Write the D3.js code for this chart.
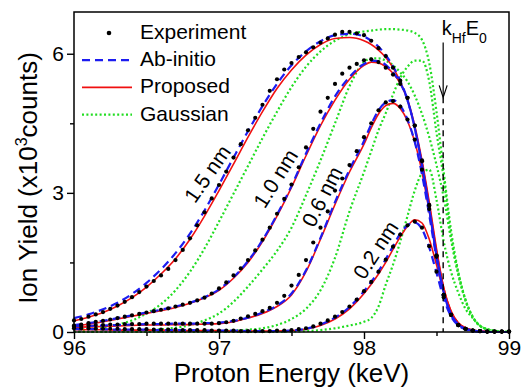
<!DOCTYPE html>
<html>
<head>
<meta charset="utf-8">
<script src="https://cdn.jsdelivr.net/npm/d3@7"></script>
<style>
  body { margin: 0; background: #fff; }
  svg { display: block; font-family: "Liberation Sans", Arial, sans-serif; }
</style>
</head>
<body>
<div id="chart"></div>
<script>
// energy grids (keV)
const energyLine = [96.0, 96.1, 96.2, 96.3, 96.4, 96.5, 96.6, 96.7, 96.8, 96.9,
  97.0, 97.1, 97.2, 97.3, 97.4, 97.5, 97.6, 97.7, 97.8, 97.9,
  98.0, 98.05, 98.1, 98.15, 98.2, 98.25, 98.3, 98.35, 98.4, 98.45,
  98.5, 98.55, 98.6, 98.65, 98.7, 98.75, 98.8, 98.85, 98.9, 98.95, 99.0]
const energyDots = [96.00, 96.05, 96.10, 96.15, 96.20, 96.25, 96.30, 96.35, 96.40, 96.45,
  96.50, 96.55, 96.60, 96.65, 96.70, 96.75, 96.80, 96.85, 96.90, 96.95,
  97.00, 97.05, 97.10, 97.15, 97.20, 97.25, 97.30, 97.35, 97.40, 97.45,
  97.50, 97.55, 97.60, 97.65, 97.70, 97.75, 97.80, 97.85, 97.90, 97.95,
  98.00, 98.05, 98.10, 98.15, 98.20, 98.25, 98.30, 98.35, 98.40, 98.45,
  98.50, 98.55, 98.60, 98.65, 98.70, 98.75, 98.80, 98.85, 98.90, 98.95, 99.00]

const thickness = ['1.5 nm', '1.0 nm', '0.6 nm', '0.2 nm']
const seriesNames = ['Experiment', 'Ab-initio', 'Proposed', 'Gaussian']

// experiment (x10^3 counts), on energyDots
const exp15 = [0.25, 0.28, 0.33, 0.38, 0.43, 0.50, 0.57, 0.65, 0.75, 0.86,
  0.98, 1.10, 1.22, 1.36, 1.55, 1.77, 2.02, 2.30, 2.58, 2.88,
  3.17, 3.46, 3.76, 4.05, 4.35, 4.62, 4.90, 5.20, 5.45, 5.66,
  5.80, 5.93, 6.03, 6.14, 6.24, 6.33, 6.41, 6.47, 6.47, 6.44,
  6.40, 6.28, 6.12, 5.95, 5.70, 5.42, 5.05, 4.45, 3.70, 2.74,
  1.65, 0.80, 0.37, 0.15, 0.07, 0.03, 0.02, 0.01, 0.01, 0.01, 0.01]
const exp10 = [0.14, 0.16, 0.19, 0.22, 0.24, 0.27, 0.30, 0.33, 0.36, 0.39,
  0.42, 0.45, 0.48, 0.51, 0.55, 0.59, 0.63, 0.68, 0.74, 0.83,
  0.94, 1.07, 1.22, 1.37, 1.55, 1.76, 1.99, 2.25, 2.55, 2.87,
  3.18, 3.55, 3.98, 4.38, 4.75, 5.05, 5.35, 5.57, 5.70, 5.78,
  5.86, 5.88, 5.82, 5.70, 5.55, 5.35, 5.05, 4.45, 3.68, 2.72,
  1.65, 0.80, 0.37, 0.15, 0.07, 0.03, 0.02, 0.01, 0.01, 0.01, 0.01]
const exp06 = [0.12, 0.13, 0.14, 0.15, 0.15, 0.16, 0.16, 0.17, 0.17, 0.17,
  0.18, 0.18, 0.18, 0.18, 0.18, 0.18, 0.18, 0.18, 0.18, 0.18,
  0.19, 0.21, 0.24, 0.29, 0.34, 0.39, 0.45, 0.52, 0.63, 0.78,
  1.00, 1.23, 1.55, 1.93, 2.25, 2.60, 3.05, 3.31, 3.60, 3.90,
  4.20, 4.50, 4.78, 4.95, 4.98, 4.86, 4.58, 4.15, 3.50, 2.65,
  1.62, 0.80, 0.37, 0.15, 0.07, 0.03, 0.02, 0.01, 0.01, 0.01, 0.01]
const exp02 = [0.08, 0.08, 0.08, 0.07, 0.07, 0.07, 0.07, 0.06, 0.06, 0.06,
  0.06, 0.05, 0.05, 0.05, 0.05, 0.04, 0.04, 0.04, 0.04, 0.03,
  0.03, 0.03, 0.03, 0.02, 0.02, 0.02, 0.02, 0.02, 0.03, 0.03,
  0.04, 0.06, 0.08, 0.12, 0.18, 0.25, 0.33, 0.43, 0.55, 0.70,
  0.88, 1.08, 1.30, 1.56, 1.84, 2.10, 2.30, 2.38, 2.25, 1.85,
  1.30, 0.75, 0.37, 0.15, 0.07, 0.03, 0.02, 0.01, 0.01, 0.01, 0.01]

// ab-initio, on energyLine
const abi15 = [0.30, 0.38, 0.49, 0.63, 0.82, 1.06, 1.35, 1.70, 2.12, 2.62,
  3.18, 3.76, 4.33, 4.87, 5.35, 5.75, 6.05, 6.27, 6.40, 6.43,
  6.37, 6.28, 6.15, 5.97, 5.73, 5.42, 5.00, 4.40, 3.60, 2.65,
  1.65, 0.85, 0.38, 0.16, 0.07, 0.03, 0.01, 0.00, 0.00, 0.00, 0.00]
const abi10 = [0.15, 0.19, 0.24, 0.30, 0.36, 0.42, 0.48, 0.55, 0.63, 0.75,
  0.92, 1.18, 1.53, 1.98, 2.53, 3.15, 3.85, 4.50, 5.08, 5.50,
  5.78, 5.85, 5.84, 5.76, 5.60, 5.37, 5.00, 4.40, 3.60, 2.65,
  1.65, 0.85, 0.38, 0.16, 0.07, 0.03, 0.01, 0.00, 0.00, 0.00, 0.00]
const abi06 = [0.12, 0.13, 0.14, 0.15, 0.16, 0.17, 0.17, 0.18, 0.18, 0.19,
  0.20, 0.24, 0.31, 0.42, 0.57, 0.83, 1.33, 2.03, 2.80, 3.50,
  4.12, 4.48, 4.78, 4.95, 5.00, 4.88, 4.58, 4.10, 3.40, 2.52,
  1.60, 0.82, 0.38, 0.16, 0.07, 0.03, 0.01, 0.00, 0.00, 0.00, 0.00]
const abi02 = [0.06, 0.06, 0.06, 0.05, 0.05, 0.05, 0.04, 0.04, 0.04, 0.03,
  0.03, 0.03, 0.02, 0.02, 0.02, 0.03, 0.07, 0.16, 0.31, 0.54,
  0.88, 1.08, 1.31, 1.57, 1.85, 2.12, 2.30, 2.36, 2.22, 1.82,
  1.28, 0.72, 0.34, 0.14, 0.06, 0.02, 0.01, 0.00, 0.00, 0.00, 0.00]

// proposed model, on energyLine
const prop15 = [0.24, 0.32, 0.42, 0.56, 0.74, 0.97, 1.25, 1.58, 2.00, 2.50,
  3.05, 3.62, 4.20, 4.75, 5.25, 5.65, 5.97, 6.20, 6.33, 6.35,
  6.28, 6.20, 6.08, 5.92, 5.70, 5.40, 5.00, 4.40, 3.65, 2.75,
  1.75, 0.95, 0.45, 0.20, 0.09, 0.04, 0.02, 0.01, 0.00, 0.00, 0.00]
const prop10 = [0.12, 0.17, 0.22, 0.28, 0.34, 0.40, 0.46, 0.53, 0.62, 0.74,
  0.90, 1.16, 1.50, 1.95, 2.50, 3.12, 3.80, 4.45, 5.00, 5.45,
  5.75, 5.82, 5.80, 5.72, 5.58, 5.36, 5.02, 4.45, 3.70, 2.80,
  1.80, 0.95, 0.45, 0.20, 0.09, 0.04, 0.02, 0.01, 0.00, 0.00, 0.00]
const prop06 = [0.10, 0.11, 0.12, 0.13, 0.14, 0.15, 0.15, 0.16, 0.16, 0.17,
  0.18, 0.22, 0.30, 0.40, 0.55, 0.80, 1.30, 2.00, 2.75, 3.45,
  4.05, 4.40, 4.70, 4.88, 4.93, 4.82, 4.55, 4.10, 3.45, 2.60,
  1.70, 0.90, 0.42, 0.18, 0.08, 0.03, 0.01, 0.00, 0.00, 0.00, 0.00]
const prop02 = [0.05, 0.05, 0.05, 0.04, 0.04, 0.04, 0.04, 0.03, 0.03, 0.03,
  0.03, 0.02, 0.02, 0.02, 0.02, 0.03, 0.06, 0.14, 0.28, 0.50,
  0.83, 1.03, 1.25, 1.50, 1.78, 2.05, 2.28, 2.42, 2.35, 2.00,
  1.45, 0.85, 0.42, 0.18, 0.08, 0.03, 0.01, 0.00, 0.00, 0.00, 0.00]

// gaussian model, on energyLine
const gau15 = [0.03, 0.06, 0.10, 0.16, 0.25, 0.40, 0.60, 0.90, 1.30, 1.80,
  2.38, 2.98, 3.58, 4.18, 4.75, 5.28, 5.72, 6.05, 6.28, 6.42,
  6.48, 6.50, 6.52, 6.53, 6.53, 6.52, 6.50, 6.45, 6.30, 5.80,
  4.75, 3.45, 2.20, 1.30, 0.70, 0.33, 0.14, 0.06, 0.03, 0.01, 0.00]
const gau10 = [0.00, 0.01, 0.01, 0.02, 0.03, 0.04, 0.06, 0.09, 0.15, 0.25,
  0.40, 0.65, 0.98, 1.35, 1.75, 2.25, 2.95, 3.70, 4.50, 5.30,
  5.82, 5.90, 5.90, 5.85, 5.75, 5.60, 5.40, 5.10, 4.70, 4.20,
  3.60, 2.90, 2.00, 1.25, 0.68, 0.32, 0.13, 0.06, 0.02, 0.01, 0.00]
const gau06 = [0.00, 0.00, 0.00, 0.00, 0.01, 0.01, 0.01, 0.01, 0.01, 0.02,
  0.02, 0.03, 0.05, 0.08, 0.15, 0.28, 0.50, 0.90, 1.60, 2.60,
  3.45, 3.90, 4.35, 4.72, 5.12, 5.48, 5.72, 5.85, 5.85, 5.40,
  4.30, 3.30, 2.05, 1.25, 0.68, 0.32, 0.13, 0.06, 0.02, 0.01, 0.00]
const gau02 = [0.00, 0.00, 0.00, 0.00, 0.00, 0.00, 0.00, 0.00, 0.00, 0.00,
  0.00, 0.00, 0.00, 0.00, 0.00, 0.01, 0.02, 0.04, 0.08, 0.14,
  0.22, 0.30, 0.55, 1.02, 1.45, 1.95, 2.50, 3.05, 3.42, 3.50,
  2.85, 1.95, 1.30, 0.85, 0.50, 0.30, 0.13, 0.06, 0.02, 0.01, 0.00]

const xTicks = [96, 97, 98, 99]
const xMinor = [96.5, 97.5, 98.5]
const yTicks = [0, 3, 6]
const yMinor = [1.5, 4.5]
const kE0 = 98.546   // k_Hf E_0 edge

const experiment = [exp15, exp10, exp06, exp02]
const abInitio = [abi15, abi10, abi06, abi02]
const proposed = [prop15, prop10, prop06, prop02]
const gaussian = [gau15, gau10, gau06, gau02]

const blue = '#1c1cf0', red = '#f01010', green = '#22dd22'

const width = 522, height = 391
const margin = { top: 12, right: 13, bottom: 59, left: 74 }
const w = width - margin.left - margin.right
const h = height - margin.top - margin.bottom

const svg = d3.select('#chart').append('svg')
  .attr('width', width)
  .attr('height', height)
const g = svg.append('g')
  .attr('transform', `translate(${margin.left},${margin.top})`)

// Scales
const x = d3.scaleLinear().domain([96, 99]).range([0, w])
const y = d3.scaleLinear().domain([0, 6.9]).range([h, 0])

const line = d3.line()
  .x((d, i) => x(energyLine[i]))
  .y(d => y(d))
  .curve(d3.curveMonotoneX)

// Gaussian (back), proposed, ab-initio, then the dots on top
g.selectAll('.gau').data(gaussian).enter().append('path')
  .attr('class', 'gau')
  .attr('d', line)
  .attr('fill', 'none')
  .attr('stroke', green)
  .attr('stroke-width', 2.2)
  .attr('stroke-dasharray', '2,2.4')

g.selectAll('.prop').data(proposed).enter().append('path')
  .attr('class', 'prop')
  .attr('d', line)
  .attr('fill', 'none')
  .attr('stroke', red)
  .attr('stroke-width', 1.6)

g.selectAll('.abi').data(abInitio).enter().append('path')
  .attr('class', 'abi')
  .attr('d', line)
  .attr('fill', 'none')
  .attr('stroke', blue)
  .attr('stroke-width', 2.2)
  .attr('stroke-dasharray', '8,5')

experiment.forEach(s => {
  g.append('g').selectAll('circle')
    .data(s)
    .enter()
    .append('circle')
    .attr('cx', (d, i) => x(energyDots[i]))
    .attr('cy', d => y(d))
    .attr('r', 2.1)
    .attr('fill', '#000')
})

// k_Hf E_0 marker: arrow and dashed line
g.append('line')
  .attr('x1', x(kE0)).attr('x2', x(kE0))
  .attr('y1', y(5.06)).attr('y2', y(0))
  .attr('stroke', '#000').attr('stroke-width', 1.4)
  .attr('stroke-dasharray', '6,5')
g.append('line')
  .attr('x1', x(kE0)).attr('x2', x(kE0))
  .attr('y1', y(6.24)).attr('y2', y(5.06))
  .attr('stroke', '#000').attr('stroke-width', 1.2)
g.append('path')
  .attr('d', `M${x(kE0) - 4},${y(5.06) - 12}L${x(kE0)},${y(5.06)}L${x(kE0) + 4},${y(5.06) - 12}`)
  .attr('fill', 'none').attr('stroke', '#000').attr('stroke-width', 1.2)

const kLabel = g.append('text')
  .attr('x', x(kE0) - 1.5)
  .attr('y', 23)
  .attr('font-size', '20px')
kLabel.append('tspan').text('k')
kLabel.append('tspan').attr('font-size', '14px').attr('dy', 8).text('Hf')
kLabel.append('tspan').attr('dy', -8).text('E')
kLabel.append('tspan').attr('font-size', '14px').attr('dy', 8).text('0')

// thickness labels along the rising edges
const labelPos = [[96.92, 3.41, -55], [97.39, 3.31, -58], [97.71, 2.92, -63], [98.08, 1.77, -57]]
g.selectAll('.tlabel').data(thickness).enter().append('text')
  .attr('class', 'tlabel')
  .attr('transform', (d, i) => `translate(${x(labelPos[i][0])},${y(labelPos[i][1])}) rotate(${labelPos[i][2]})`)
  .attr('text-anchor', 'middle')
  .attr('dy', '0.35em')
  .attr('font-size', '21px')
  .text(d => d)

// Frame
g.append('rect')
  .attr('width', w).attr('height', h)
  .attr('fill', 'none').attr('stroke', '#000').attr('stroke-width', 1.5)

// Axes
const xAxis = d3.axisBottom(x).tickValues(xTicks).tickSize(7).tickPadding(1).tickFormat(d3.format('d'))
const yAxis = d3.axisLeft(y).tickValues(yTicks).tickSize(7).tickPadding(3).tickFormat(d3.format('d'))
const ax = g.append('g').attr('transform', `translate(0,${h})`).call(xAxis)
g.append('g').attr('transform', `translate(0,${h})`)
  .call(d3.axisBottom(x).tickValues(xMinor).tickSize(4).tickFormat(''))
const ay = g.append('g').call(yAxis)
g.append('g').call(d3.axisLeft(y).tickValues(yMinor).tickSize(4).tickFormat(''))
g.selectAll('.domain').remove()
g.selectAll('.tick line').attr('stroke-width', 1.4)
ax.selectAll('text').attr('font-size', '21px').attr('font-family', null).attr('fill', '#000')
ay.selectAll('text').attr('font-size', '21px').attr('font-family', null).attr('fill', '#000')

// Axis titles
svg.append('text')
  .attr('x', margin.left + w / 2)
  .attr('y', 382)
  .attr('text-anchor', 'middle')
  .attr('font-size', '26px')
  .text('Proton Energy (keV)')

const yt = svg.append('text')
  .attr('transform', `translate(37,${margin.top + h / 2 + 6}) rotate(-90)`)
  .attr('text-anchor', 'middle')
  .attr('font-size', '26px')
yt.append('tspan').text('Ion Yield (x10')
yt.append('tspan').attr('font-size', '16px').attr('dy', -10).text('3')
yt.append('tspan').attr('dy', 10).text('counts)')

// Legend
const legend = svg.append('g').attr('transform', 'translate(82,39)')
const rowH = 27.2
legend.append('circle').attr('cx', 27).attr('cy', -6).attr('r', 2.3).attr('fill', '#000')
legend.append('line').attr('x1', 0).attr('x2', 50).attr('y1', rowH - 6).attr('y2', rowH - 6)
  .attr('stroke', blue).attr('stroke-width', 2.2).attr('stroke-dasharray', '8,5')
legend.append('line').attr('x1', 0).attr('x2', 50).attr('y1', 2 * rowH - 6).attr('y2', 2 * rowH - 6)
  .attr('stroke', red).attr('stroke-width', 1.6)
legend.append('line').attr('x1', 0).attr('x2', 50).attr('y1', 3 * rowH - 6).attr('y2', 3 * rowH - 6)
  .attr('stroke', green).attr('stroke-width', 2.2).attr('stroke-dasharray', '2,2.4')
legend.selectAll('.ltext').data(seriesNames).enter().append('text')
  .attr('class', 'ltext')
  .attr('x', 58)
  .attr('y', (d, i) => i * rowH)
  .attr('font-size', '21px')
  .text(d => d)
</script>
</body>
</html>
